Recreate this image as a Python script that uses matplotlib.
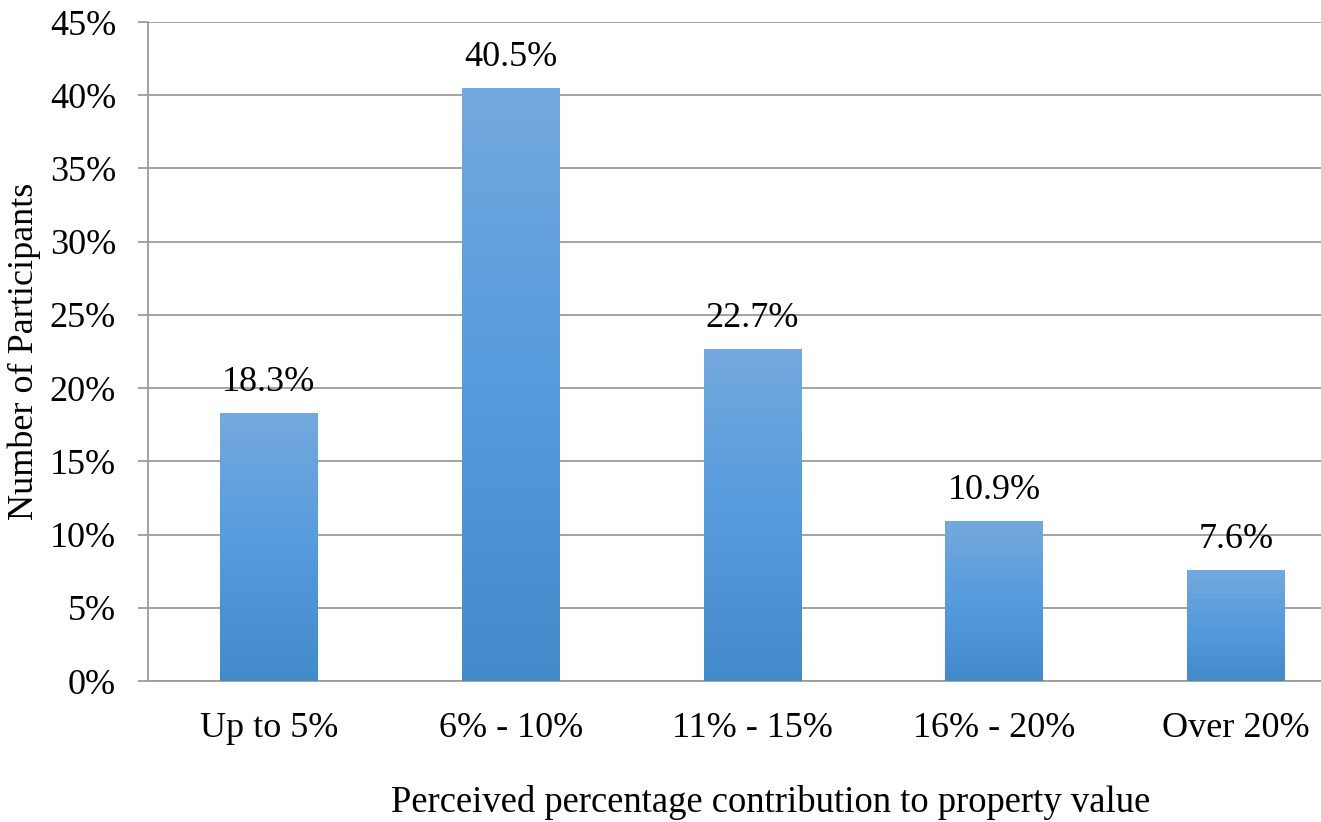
import matplotlib
matplotlib.use("Agg")
import matplotlib.pyplot as plt
import numpy as np
from matplotlib.colors import LinearSegmentedColormap

# survey results, share of participants per answer
categories = ["Up to 5%", "6% - 10%", "11% - 15%", "16% - 20%", "Over 20%"]
shares = [18.3, 40.5, 22.7, 10.9, 7.6]
y_ticks = [0, 5, 10, 15, 20, 25, 30, 35, 40, 45]

plt.rcParams['font.family'] = ['Liberation Serif', 'DejaVu Serif']

fig = plt.figure(figsize=(13.21, 8.22), dpi=100)
ax = fig.add_axes([148 / 1321, 141 / 822, 1 - 148 / 1321, (681 - 22) / 822])

x = np.arange(len(categories))
bars = ax.bar(x, shares, width=0.405, color="#559BDE", zorder=2)

# vertical gradient, lighter at top
grad = LinearSegmentedColormap.from_list("bar", ["#438ACB", "#559BDE", "#74A9DD"])
for b in bars:
    x0, y0 = b.get_x(), b.get_y()
    w, h = b.get_width(), b.get_height()
    im = ax.imshow(np.linspace(0, 1, 256).reshape(-1, 1), cmap=grad, origin="lower",
                   extent=[x0, x0 + w, y0, y0 + h], aspect="auto", zorder=3)
    im.set_clip_path(b)
    ax.annotate(f"{b.get_height():.1f}%", (x0 + w / 2, y0 + h), xytext=(0, 10),
                textcoords="offset points", ha="center", va="bottom", fontsize=26, zorder=4)

ax.set_xlim(-0.5, (1321 - 268) / 242)
ax.set_ylim(0, 45)
ax.set_yticks(y_ticks)
ax.set_yticklabels([f"{t}%" for t in y_ticks])
ax.set_xticks(x)
ax.set_xticklabels(categories)

ax.grid(axis="y", color="#9C9C9C", linewidth=1.3, zorder=0)
ax.set_axisbelow(True)
for s in ["top", "right"]:
    ax.spines[s].set_visible(False)
for s in ["left", "bottom"]:
    ax.spines[s].set_color("#9C9C9C")
    ax.spines[s].set_linewidth(1.3)

ax.tick_params(axis="y", length=7, width=1.3, color="#9C9C9C", pad=16, labelsize=26)
ax.tick_params(axis="x", length=0, pad=22, labelsize=26)

ax.set_xlabel("Perceived percentage contribution to property value", fontsize=26.4, labelpad=31)
ax.xaxis.set_label_coords(0.531, -0.158)
ax.set_ylabel("Number of Participants", fontsize=26, labelpad=6)

fig.savefig("out.png", dpi=100)
